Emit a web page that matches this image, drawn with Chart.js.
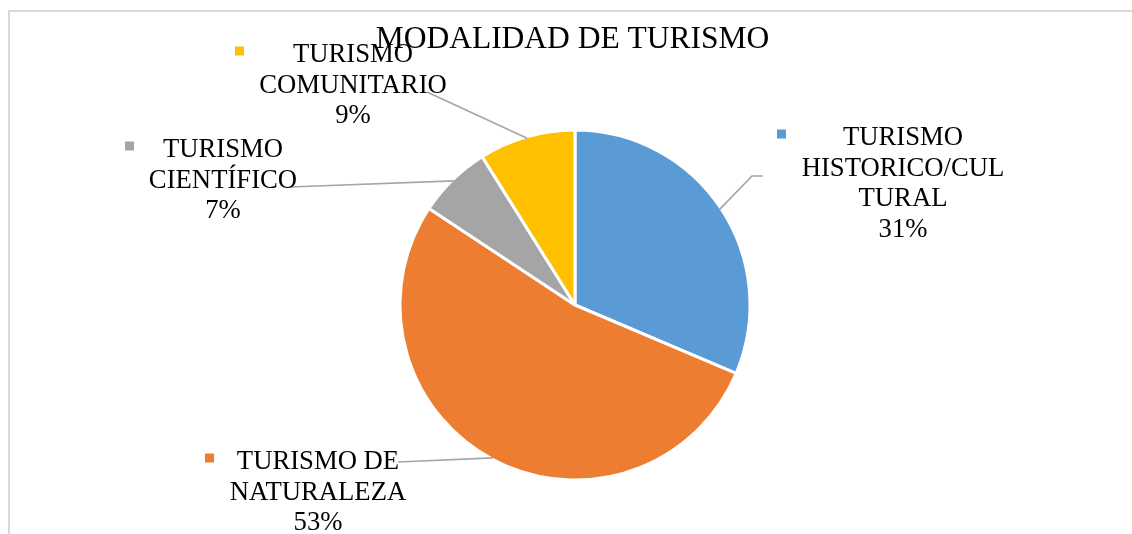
<!DOCTYPE html>
<html lang="es">
<head>
<meta charset="utf-8">
<title>Modalidad de turismo</title>
<script src="https://cdn.jsdelivr.net/npm/chart.js@4.4.1/dist/chart.umd.min.js"></script>
<style>
    html, body { margin: 0; padding: 0; background: #fff; }
    #grafico { display: block; }
</style>
</head>
<body>
<canvas id="grafico" width="1132" height="534"></canvas>
<script>
// Datos del gráfico
const titulo = "MODALIDAD DE TURISMO";
const categorias = [
    ["TURISMO", "HISTORICO/CUL", "TURAL"],
    ["TURISMO DE", "NATURALEZA"],
    ["TURISMO", "CIENTÍFICO"],
    ["TURISMO", "COMUNITARIO"]
];
const valores = [31.4, 52.9, 6.8, 8.9];
const colores = ["#5B9BD5", "#ED7D31", "#A5A5A5", "#FFC000"];

// Ubicación de cada etiqueta: centro del texto, primera línea base, cuadrito y arranque de la guía
const etiquetas = [
    { x: 903, y: 145, mx: 777, lx: 763, ly: 176, codo: [752, 176] },
    { x: 318, y: 469, mx: 205, lx: 398, ly: 462 },
    { x: 223, y: 157, mx: 125, lx: 290, ly: 187 },
    { x: 353, y: 62, mx: 235, lx: 427, ly: 92 }
];

const marcoYEtiquetas = {
    id: "marcoYEtiquetas",
    beforeDraw(chart) {
        const ctx = chart.ctx;
        ctx.save();
        ctx.strokeStyle = "#D9D9D9";
        ctx.lineWidth = 2;
        ctx.beginPath();
        ctx.moveTo(9, 534);
        ctx.lineTo(9, 11);
        ctx.lineTo(1132, 11);
        ctx.stroke();
        ctx.restore();
    },
    afterDatasetsDraw(chart) {
        const ctx = chart.ctx;
        const arcos = chart.getDatasetMeta(0).data;
        const total = valores.reduce((a, b) => a + b, 0);
        ctx.save();

        // líneas guía hacia el borde de cada porción
        ctx.strokeStyle = "#A6A6A6";
        ctx.lineWidth = 1.7;
        arcos.forEach((arco, i) => {
            const p = arco.getProps(["x", "y", "startAngle", "endAngle", "outerRadius"], true);
            const medio = (p.startAngle + p.endAngle) / 2;
            const r = p.outerRadius - 1.5;
            const e = etiquetas[i];
            ctx.beginPath();
            ctx.moveTo(e.lx, e.ly);
            if (e.codo) ctx.lineTo(e.codo[0], e.codo[1]);
            ctx.lineTo(p.x + Math.cos(medio) * r, p.y + Math.sin(medio) * r);
            ctx.stroke();
        });

        // textos y cuadritos de color
        ctx.font = "26.7px 'Liberation Serif', 'Times New Roman', serif";
        ctx.textAlign = "center";
        ctx.textBaseline = "alphabetic";
        arcos.forEach((arco, i) => {
            const e = etiquetas[i];
            const lineas = categorias[i].concat(Math.round(valores[i] / total * 100) + "%");
            ctx.fillStyle = "#000";
            lineas.forEach((t, j) => ctx.fillText(t, e.x, e.y + j * 30.6));
            ctx.fillStyle = colores[i];
            ctx.fillRect(e.mx, e.y - 15.5, 9, 9);
        });

        // título
        ctx.fillStyle = "#000";
        ctx.font = "31.5px 'Liberation Serif', 'Times New Roman', serif";
        ctx.fillText(titulo, 572.5, 48);
        ctx.restore();
    }
};

new Chart(document.getElementById("grafico"), {
    type: "pie",
    data: {
        labels: categorias,
        datasets: [{
            data: valores,
            backgroundColor: colores,
            borderColor: "#FFFFFF",
            borderWidth: 3
        }]
    },
    options: {
        responsive: false,
        animation: false,
        radius: 175,
        layout: {
            padding: { left: 401, right: 383, top: 131, bottom: 55 }
        },
        plugins: {
            legend: { display: false },
            tooltip: { enabled: false },
            title: { display: false }
        }
    },
    plugins: [marcoYEtiquetas]
});
</script>
</body>
</html>
